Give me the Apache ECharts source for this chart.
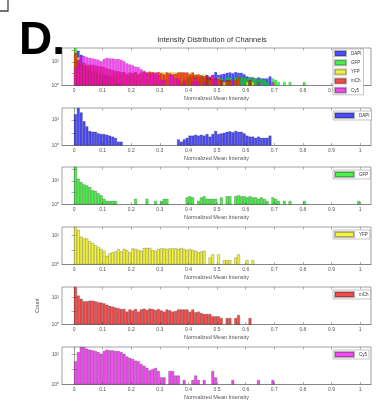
<!DOCTYPE html>
<html><head><meta charset="utf-8">
<script src="https://cdn.jsdelivr.net/npm/echarts@6/dist/echarts.min.js"></script>
<style>html,body{margin:0;padding:0;background:#fff}#c{width:377px;height:413px}</style>
</head><body><div id="c"></div>
<script>
// ---------------- data ----------------
const channels = ['DAPI', 'GFP', 'YFP', 'mCh', 'Cy5'];
const binStart = 0;
const binWidth = 0.01;
const xTickValues = [0, 0.1, 0.2, 0.3, 0.4, 0.5, 0.6, 0.7, 0.8, 0.9, 1];
const yTickValues = [1, 10, 100, 1000];
const yLabelValues = [1, 100];
const yLabelText = { 1: '10⁰', 100: '10²' };
const titleText = 'Intensity Distribution of Channels';
const xAxisTitle = 'Normalized Mean Intensity';
const yAxisTitle = 'Count';
const panelLetter = 'D.';

const dapiCounts = [
  290, 900, 400, 82, 32, 14, 12, 12, 9, 8,
  8, 7, 6, 5, 4, 2, 2, 0, 0, 0,
  0, 0, 0, 0, 0, 0, 0, 0, 0, 0,
  0, 0, 0, 0, 0, 0, 3, 2, 3, 4,
  6, 6, 7, 6, 7, 6, 8, 5, 8, 14,
  8, 9, 10, 12, 13, 11, 14, 12, 12, 9,
  6, 5, 5, 4, 5, 4, 4, 4, 6, 0,
  0, 0, 0, 0, 0, 0, 0, 0, 0, 0,
  0, 0, 0, 0, 0, 0, 0, 0, 0, 0,
  0, 0, 0, 0, 0, 0, 0, 0, 0, 0
];
const gfpCounts = [
  1500, 155, 80, 50, 41, 30, 16, 14, 9, 6,
  3, 2, 2, 2, 2, 0, 0, 0, 0, 0,
  0, 3, 0, 0, 0, 3, 0, 0, 2, 0,
  2, 3, 3, 0, 0, 0, 0, 0, 0, 4,
  5, 4, 0, 2, 4, 5, 3, 3, 3, 3,
  0, 4, 0, 5, 5, 0, 5, 6, 5, 5,
  4, 5, 4, 4, 3, 4, 3, 2, 0, 4,
  3, 2, 0, 2, 0, 2, 0, 0, 0, 0,
  2, 0, 0, 0, 0, 0, 0, 0, 0, 0,
  0, 0, 0, 0, 0, 0, 0, 0, 0, 2
];
const yfpCounts = [
  400, 250, 85, 65, 63, 42, 32, 22, 16, 12,
  9, 4, 6, 7, 8, 12, 8, 12, 10, 7,
  13, 12, 10, 9, 14, 14, 14, 10, 9, 12,
  13, 13, 12, 13, 13, 13, 12, 14, 12, 10,
  12, 10, 9, 7, 8, 9, 0, 3, 5, 0,
  5, 0, 2, 2, 2, 0, 3, 5, 0, 0,
  2, 0, 2, 0, 0, 0, 0, 0, 0, 0,
  0, 0, 0, 0, 0, 0, 0, 0, 0, 0,
  0, 0, 0, 0, 0, 0, 0, 0, 0, 0,
  0, 0, 0, 0, 0, 0, 0, 0, 0, 0
];
const mchCounts = [
  600, 140, 80, 52, 52, 58, 58, 52, 44, 42,
  37, 29, 24, 21, 18, 16, 14, 14, 9, 13,
  11, 14, 9, 13, 15, 12, 15, 14, 12, 14,
  11, 9, 13, 11, 9, 10, 13, 13, 13, 13,
  9, 13, 8, 9, 7, 6, 6, 6, 4, 4,
  4, 3, 0, 3, 3, 0, 3, 5, 0, 0,
  0, 3, 0, 0, 0, 0, 0, 0, 0, 0,
  0, 0, 0, 0, 0, 0, 0, 0, 0, 0,
  0, 0, 0, 0, 0, 0, 0, 0, 0, 0,
  0, 0, 0, 0, 0, 0, 0, 0, 0, 0
];
const cy5Counts = [
  36, 151, 330, 325, 256, 218, 197, 177, 151, 116,
  177, 218, 197, 197, 177, 177, 151, 116, 76, 61,
  52, 40, 36, 24, 18, 13, 9, 11, 13, 8,
  3, 3, 0, 8, 8, 4, 4, 0, 2, 0,
  0, 2, 4, 2, 0, 2, 0, 0, 8, 3,
  0, 0, 0, 0, 0, 2, 0, 0, 0, 0,
  0, 0, 0, 0, 2, 0, 0, 0, 0, 2,
  0, 0, 0, 0, 0, 0, 0, 0, 0, 0,
  0, 0, 0, 0, 0, 0, 0, 0, 0, 0,
  0, 0, 0, 0, 0, 0, 0, 0, 0, 0
];

// ---------------- styles / layout ----------------
const channelCounts = [dapiCounts, gfpCounts, yfpCounts, mchCounts, cy5Counts];
const channelColors = ['rgba(0,0,255,0.7)', 'rgba(0,235,0,0.7)', 'rgba(240,240,0,0.75)', 'rgba(240,0,0,0.7)', 'rgba(240,0,240,0.7)'];
const panels = [
  { ch: [0, 1, 2, 3, 4], top: 48 },
  { ch: [0], top: 108 },
  { ch: [1], top: 167 },
  { ch: [2], top: 227 },
  { ch: [3], top: 287 },
  { ch: [4], top: 347 }
];
const gridLeft = 62, gridRight = 6, gridHeight = 37.5;
const xMin = -0.042, xMax = 1.038;
const plotWidth = 377 - gridLeft - gridRight;
const barPx = plotWidth * binWidth / (xMax - xMin);
const axisCol = '#7a7a7a';
const fontFam = 'Liberation Sans, Arial, sans-serif';

const centers = dapiCounts.map((_, i) => +(binStart + (i + 0.5) * binWidth).toFixed(4));
function toData(arr) {
  return arr.map((c, i) => [centers[i], c]).filter(d => d[1] > 0);
}

const grid = [], xAxis = [], yAxis = [], series = [], legend = [];
panels.forEach((p, k) => {
  const ymax = Math.max(...p.ch.map(c => Math.max(...channelCounts[c])));
  const multi = p.ch.length > 1;
  grid.push({ left: gridLeft, right: gridRight, top: p.top, height: gridHeight, show: true, borderColor: axisCol, borderWidth: 0.7, backgroundColor: '#fff' });
  xAxis.push({
    type: 'value', gridIndex: k, min: xMin, max: xMax, position: 'bottom',
    axisLine: { show: true, lineStyle: { color: axisCol, width: 0.7 } },
    axisTick: { show: true, inside: true, length: 2.5, customValues: xTickValues, lineStyle: { color: axisCol, width: 0.6 } },
    axisLabel: { show: true, customValues: xTickValues, fontSize: 5, color: '#555', margin: 2.5, fontFamily: fontFam },
    splitLine: { show: false },
    name: xAxisTitle, nameLocation: 'middle', nameGap: 9.5,
    nameTextStyle: { fontSize: 5.5, color: '#555', fontFamily: fontFam }
  });
  xAxis.push({
    type: 'value', gridIndex: k, min: xMin, max: xMax, position: 'top',
    axisLine: { show: false },
    axisTick: { show: true, inside: true, length: 2.5, customValues: xTickValues, lineStyle: { color: axisCol, width: 0.6 } },
    axisLabel: { show: false }, splitLine: { show: false }
  });
  const yt = yTickValues.filter(v => v <= ymax);
  const yAx = {
    type: 'log', logBase: 10, gridIndex: k, min: 1, max: ymax, position: 'left',
    axisLine: { show: true, lineStyle: { color: axisCol, width: 0.7 } },
    axisTick: { show: true, inside: true, length: 2.5, customValues: yt, lineStyle: { color: axisCol, width: 0.6 } },
    axisLabel: { show: true, customValues: yLabelValues, formatter: v => yLabelText[Math.round(v)] || '', fontSize: 5, color: '#555', margin: 3, fontFamily: fontFam },
    splitLine: { show: false }
  };
  if (k === 4) {
    yAx.name = yAxisTitle; yAx.nameLocation = 'middle'; yAx.nameGap = 12; yAx.nameRotate = 90;
    yAx.nameTextStyle = { fontSize: 5.5, color: '#555', fontFamily: fontFam };
  }
  yAxis.push(yAx);
  yAxis.push({
    type: 'log', logBase: 10, gridIndex: k, min: 1, max: ymax, position: 'right',
    axisLine: { show: false },
    axisTick: { show: true, inside: true, length: 2.5, customValues: yt, lineStyle: { color: axisCol, width: 0.6 } },
    axisLabel: { show: false }, splitLine: { show: false }
  });
  p.ch.forEach(c => {
    series.push({
      type: 'bar', name: channels[c], xAxisIndex: 2 * k, yAxisIndex: 2 * k,
      data: toData(channelCounts[c]), barWidth: barPx, barGap: '-100%',
      itemStyle: { color: channelColors[c], borderColor: multi ? 'rgba(20,20,20,0.3)' : 'rgba(20,20,20,0.55)', borderWidth: multi ? 0.3 : 0.4 },
      silent: true, animation: false
    });
  });
  legend.push({
    data: p.ch.map(c => channels[c]), left: 333, top: p.top + (multi ? 1 : 3),
    orient: 'vertical', icon: 'rect', itemWidth: multi ? 11 : 19, itemHeight: 5, itemGap: multi ? 2.2 : 0,
    padding: [1, 2, 1, 1], borderColor: '#888', borderWidth: 0.5, backgroundColor: '#fff',
    textStyle: { fontSize: 4.5, color: '#333', fontFamily: fontFam }, selectedMode: false
  });
});

const chart = echarts.init(document.getElementById('c'), null, { renderer: 'canvas' });
chart.setOption({
  animation: false,
  backgroundColor: '#fff',
  grid, xAxis, yAxis, series, legend,
  graphic: [
    { type: 'polyline', shape: { points: [[8, 0], [8, 11], [0, 11]] }, style: { stroke: '#444', lineWidth: 1.3, fill: null } },
    { type: 'text', x: 19, y: 64, style: { text: panelLetter, font: 'bold 46px Liberation Sans, Arial, sans-serif', fill: '#000', verticalAlign: 'bottom', align: 'left' } },
    { type: 'text', x: 212, y: 40, style: { text: titleText, font: '7.5px Liberation Sans, Arial, sans-serif', fill: '#333', align: 'center', verticalAlign: 'middle' } }
  ]
});
</script></body></html>
